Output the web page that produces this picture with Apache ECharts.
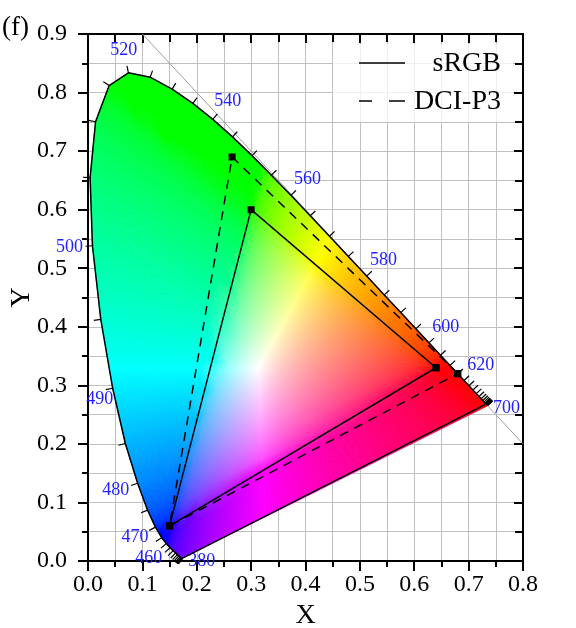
<!DOCTYPE html>
<html>
<head>
    <meta charset="utf-8">
    <title>CIE 1931</title>
    <script src="https://cdn.jsdelivr.net/npm/echarts@6/dist/echarts.min.js"></script>
    <style>
        * {
            margin: 0;
            padding: 0
        }

        html, body {
            width: 100%;
            height: 100%;
            background: #fff;
        }

        #main {
            width: 576px;
            height: 628px;
        }
    </style>
</head>
<body>
<div id="main"></div>
</body>

<script type="text/javascript">
    /*--------------------数据-----------------------------*/
    // 光谱轨迹 (nm)
    var wavelengths = [380, 385, 390, 395, 400, 405, 410, 415, 420, 425, 430, 435, 440, 445, 450, 455,
        460, 465, 470, 475, 480, 485, 490, 495, 500, 505, 510, 515, 520, 525, 530, 535, 540, 545,
        550, 555, 560, 565, 570, 575, 580, 585, 590, 595, 600, 605, 610, 615, 620, 625, 630, 635,
        640, 645, 650, 655, 660, 665, 670, 675, 680, 685, 690, 695, 700];
    var locusX = [0.1741, 0.1740, 0.1738, 0.1736, 0.1733, 0.1730, 0.1726, 0.1721, 0.1714, 0.1703,
        0.1689, 0.1669, 0.1644, 0.1611, 0.1566, 0.1510, 0.1440, 0.1355, 0.1241, 0.1096, 0.0913,
        0.0687, 0.0454, 0.0235, 0.0082, 0.0039, 0.0139, 0.0389, 0.0743, 0.1142, 0.1547, 0.1929,
        0.2296, 0.2658, 0.3016, 0.3373, 0.3731, 0.4087, 0.4441, 0.4788, 0.5125, 0.5448, 0.5752,
        0.6029, 0.6270, 0.6482, 0.6658, 0.6801, 0.6915, 0.7006, 0.7079, 0.7140, 0.7190, 0.7230,
        0.7260, 0.7283, 0.7300, 0.7311, 0.7320, 0.7327, 0.7334, 0.7340, 0.7344, 0.7346, 0.7347];
    var locusY = [0.0050, 0.0050, 0.0049, 0.0049, 0.0048, 0.0048, 0.0048, 0.0048, 0.0051, 0.0058,
        0.0069, 0.0086, 0.0109, 0.0138, 0.0177, 0.0227, 0.0297, 0.0399, 0.0578, 0.0868, 0.1327,
        0.2007, 0.2950, 0.4127, 0.5384, 0.6548, 0.7502, 0.8120, 0.8338, 0.8262, 0.8059, 0.7816,
        0.7543, 0.7243, 0.6923, 0.6589, 0.6245, 0.5896, 0.5547, 0.5202, 0.4866, 0.4544, 0.4242,
        0.3965, 0.3725, 0.3514, 0.3340, 0.3197, 0.3083, 0.2993, 0.2920, 0.2859, 0.2809, 0.2770,
        0.2740, 0.2717, 0.2700, 0.2689, 0.2680, 0.2673, 0.2666, 0.2660, 0.2656, 0.2654, 0.2653];
    var labelWaves = [380, 460, 470, 480, 490, 500, 520, 540, 560, 580, 600, 620, 700];

    // 色域三角形 (R, G, B)
    var srgbX = [0.64, 0.30, 0.15];
    var srgbY = [0.33, 0.60, 0.06];
    var p3X = [0.68, 0.265, 0.15];
    var p3Y = [0.32, 0.69, 0.06];

    // x + y = 1 参考线
    var diagX = [0.1, 0.8];
    var diagY = [0.9, 0.2];

    // 白点 D65
    var whitePoint = [0.3127, 0.3290];

    /*--------------------工具函数-----------------------------*/
    function pairs(xs, ys, close) {
        var out = xs.map(function (x, i) {
            return [x, ys[i]];
        });
        if (close) out.push([xs[0], ys[0]]);
        return out;
    }

    // xy 色度 -> sRGB 颜色字符串
    function xyToColor(x, y) {
        var X = x / y, Z = (1 - x - y) / y;
        var c = [
            3.2406 * X - 1.5372 - 0.4986 * Z,
            -0.9689 * X + 1.8758 + 0.0415 * Z,
            0.0557 * X - 0.2040 + 1.0570 * Z
        ].map(function (v) {
            return Math.max(v, 0);
        });
        var m = Math.max(c[0], c[1], c[2]) || 1;
        c = c.map(function (v) {
            v = v / m;
            v = v <= 0.0031308 ? 12.92 * v : 1.055 * Math.pow(v, 1 / 2.4) - 0.055;
            return Math.round(Math.max(0, Math.min(1, v)) * 255);
        });
        return 'rgb(' + c.join(',') + ')';
    }

    // 轨迹外法线 (像素坐标)
    function locusNormal(i, api) {
        var n = locusX.length;
        for (var k = 1; k < n; k++) {
            var a = api.coord([locusX[Math.max(i - k, 0)], locusY[Math.max(i - k, 0)]]);
            var b = api.coord([locusX[Math.min(i + k, n - 1)], locusY[Math.min(i + k, n - 1)]]);
            var dx = b[0] - a[0], dy = b[1] - a[1];
            var len = Math.sqrt(dx * dx + dy * dy);
            if (len >= 10) return [dy / len, -dx / len];
        }
        return [0, -1];
    }

    var serif = '"Times New Roman", "Liberation Serif", serif';
    var gridGray = '#c0c0c0';

    /*--------------------图表-----------------------------*/
    var chart = echarts.init(document.getElementById('main'));

    function valueAxis(pos, max, main) {
        var isX = pos === 'bottom' || pos === 'top';
        return {
            type: 'value',
            position: pos,
            min: 0,
            max: max,
            interval: 0.1,
            name: main ? (isX ? 'X' : 'Y') : '',
            nameLocation: 'middle',
            nameGap: isX ? 37 : 52,
            nameMoveOverlap: isX,
            nameTextStyle: {fontFamily: serif, fontSize: 28, color: '#000'},
            axisLine: {show: true, onZero: false, lineStyle: {color: '#000', width: 2}},
            axisTick: {show: true, inside: !main, length: main ? 10 : 9, lineStyle: {color: '#000', width: 2}},
            minorTick: {show: true, splitNumber: 2, length: main ? 6 : 8, lineStyle: {color: '#000', width: 2}},
            axisLabel: {
                show: main,
                margin: isX ? 12 : 21,
                fontFamily: serif,
                fontSize: 24,
                color: '#000',
                formatter: function (v) {
                    return v.toFixed(1);
                }
            },
            splitLine: {show: main, lineStyle: {color: gridGray, width: 1}},
            minorSplitLine: {show: main, lineStyle: {color: gridGray, width: 1}}
        };
    }

    chart.setOption({
        animation: false,
        textStyle: {fontFamily: serif},
        grid: {left: 88, right: 53, top: 34, bottom: 67, containLabel: false, outerBoundsMode: 'none'},
        xAxis: [valueAxis('bottom', 0.8, true), valueAxis('top', 0.8, false)],
        yAxis: [valueAxis('left', 0.9, true), valueAxis('right', 0.9, false)],
        graphic: [
            {
                type: 'rect', z: 1,
                shape: {x: 333, y: 44, width: 180, height: 78},
                style: {fill: 'rgba(255,255,255,0.75)'}
            },
            {type: 'line', z: 2, shape: {x1: 359, y1: 63, x2: 405, y2: 63}, style: {stroke: '#000', lineWidth: 1.5}},
            {type: 'line', z: 2, shape: {x1: 359, y1: 101, x2: 372, y2: 101}, style: {stroke: '#000', lineWidth: 1.5}},
            {type: 'line', z: 2, shape: {x1: 389, y1: 101, x2: 405, y2: 101}, style: {stroke: '#000', lineWidth: 1.5}},
            {
                type: 'text', z: 2, x: 501, y: 64,
                style: {text: 'sRGB', font: '28px ' + serif, fill: '#000', align: 'right', verticalAlign: 'middle'}
            },
            {
                type: 'text', z: 2, x: 501, y: 102,
                style: {text: 'DCI-P3', font: '28px ' + serif, fill: '#000', align: 'right', verticalAlign: 'middle'}
            },
            {
                type: 'text', x: 2, y: 28,
                style: {text: '(f)', font: '27px ' + serif, fill: '#000', align: 'left', verticalAlign: 'middle'}
            }
        ],
        series: [
            {
                // x + y = 1
                type: 'line',
                z: 1,
                data: pairs(diagX, diagY, false),
                symbol: 'none',
                lineStyle: {color: '#a0a0a0', width: 1}
            },
            {
                // 色度图填充: 以白点为中心的扇形渐变
                type: 'custom',
                z: 2,
                data: [[whitePoint[0], whitePoint[1]]],
                renderItem: function (params, api) {
                    var base = pairs(locusX, locusY, true);
                    var w = api.coord(whitePoint);
                    var children = [];
                    for (var i = 0; i < base.length - 1; i++) {
                        var a0 = base[i], b0 = base[i + 1];
                        var pa = api.coord(a0), pb = api.coord(b0);
                        var pieces = Math.max(1, Math.ceil(Math.hypot(pb[0] - pa[0], pb[1] - pa[1]) / 3));
                        for (var s = 0; s < pieces; s++) {
                            var t0 = s / pieces, t1 = (s + 1) / pieces;
                            var a = [a0[0] + (b0[0] - a0[0]) * t0, a0[1] + (b0[1] - a0[1]) * t0];
                            var b = [a0[0] + (b0[0] - a0[0]) * t1, a0[1] + (b0[1] - a0[1]) * t1];
                            var mid = [(a[0] + b[0]) / 2, (a[1] + b[1]) / 2];
                            var pm = api.coord(mid);
                            var stops = [];
                            for (var j = 0; j <= 10; j++) {
                                var f = j / 10;
                                stops.push({
                                    offset: f,
                                    color: xyToColor(whitePoint[0] + (mid[0] - whitePoint[0]) * f,
                                        whitePoint[1] + (mid[1] - whitePoint[1]) * f)
                                });
                            }
                            var grad = {type: 'linear', x: w[0], y: w[1], x2: pm[0], y2: pm[1], global: true, colorStops: stops};
                            children.push({
                                type: 'polygon',
                                shape: {points: [w, api.coord(a), api.coord(b)]},
                                style: {fill: grad, stroke: grad, lineWidth: 1}
                            });
                        }
                    }
                    return {type: 'group', children: children};
                }
            },
            {
                // 光谱轨迹轮廓
                type: 'line',
                z: 3,
                data: pairs(locusX, locusY, true),
                symbol: 'none',
                lineStyle: {color: '#000', width: 1.5}
            },
            {
                // 波长刻度
                type: 'custom',
                z: 3,
                data: pairs(locusX, locusY, false),
                renderItem: function (params, api) {
                    var i = params.dataIndex;
                    var p = api.coord([locusX[i], locusY[i]]);
                    var nrm = locusNormal(i, api);
                    return {
                        type: 'line',
                        shape: {x1: p[0], y1: p[1], x2: p[0] + nrm[0] * 7, y2: p[1] + nrm[1] * 7},
                        style: {stroke: '#000', lineWidth: 1.2}
                    };
                }
            },
            {
                // 波长标签
                type: 'custom',
                z: 3,
                data: labelWaves.map(function (wl) {
                    var i = wavelengths.indexOf(wl);
                    return [locusX[i], locusY[i], wl];
                }),
                renderItem: function (params, api) {
                    var wl = api.value(2);
                    var i = wavelengths.indexOf(wl);
                    var p = api.coord([locusX[i], locusY[i]]);
                    var pos;
                    if (i === 0 || i === wavelengths.length - 1) {
                        pos = [p[0] + 19, p[1] + 3];
                    } else if (wl === 490) {
                        pos = [p[0] - 13, p[1] + 11];
                    } else {
                        var nrm = locusNormal(i, api);
                        pos = [p[0] + nrm[0] * 23, p[1] + nrm[1] * 23];
                    }
                    return {
                        type: 'text',
                        x: pos[0],
                        y: pos[1],
                        style: {
                            text: String(wl),
                            font: '18px ' + serif,
                            fill: '#2222ff',
                            align: 'center',
                            verticalAlign: 'middle'
                        }
                    };
                }
            },
            {
                name: 'sRGB',
                type: 'line',
                z: 4,
                data: pairs(srgbX, srgbY, true),
                symbol: 'rect',
                symbolSize: 7,
                itemStyle: {color: '#000'},
                lineStyle: {color: '#000', width: 1.5}
            },
            {
                name: 'DCI-P3',
                type: 'line',
                z: 4,
                data: pairs(p3X, p3Y, true),
                symbol: 'rect',
                symbolSize: 7,
                itemStyle: {color: '#000'},
                lineStyle: {color: '#000', width: 1.5, type: [9, 7]}
            }
        ]
    });
</script>
</html>
